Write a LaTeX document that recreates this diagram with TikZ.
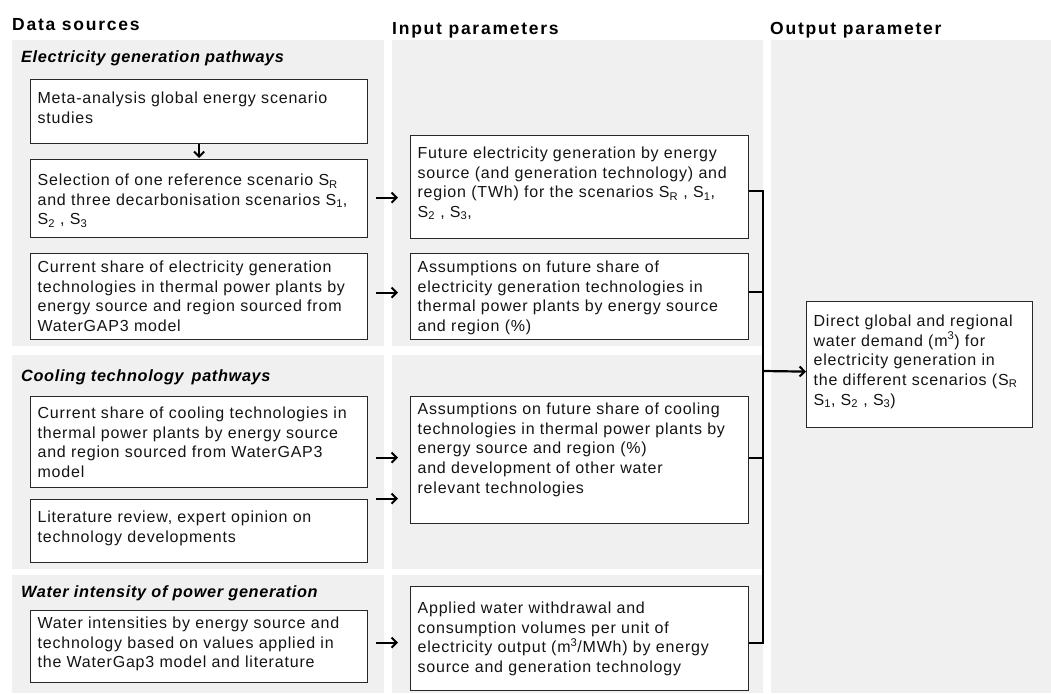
\documentclass[tikz,border=0pt]{standalone}
\usepackage{fontspec}
\setmainfont{Liberation Sans}
\newfontfamily\bodyfont{Liberation Sans}[LetterSpace=5]
\newfontfamily\headfont{Liberation Sans}[LetterSpace=10]
\newfontfamily\subfont{Liberation Sans}[LetterSpace=4]
\usetikzlibrary{arrows.meta}
\definecolor{panel}{RGB}{240,240,240}
\definecolor{txt}{RGB}{20,20,20}
\definecolor{edge}{RGB}{40,40,40}
\newcommand\bt[4]{\parbox[c][#2][t]{#1}{\bodyfont\fontsize{16pt}{19.6pt}\selectfont\raggedright\leftskip=7pt\rightskip=-60pt plus 1fil\parindent=0pt\rule{0pt}{#3}#4}}
\tikzset{
  box/.style={draw=edge, line width=1.2pt, fill=white, inner sep=0pt, anchor=north west, text=txt},
  head/.style={anchor=base west, inner sep=0pt, font=\headfont\bfseries\fontsize{17.5pt}{20pt}\selectfont},
  subhead/.style={anchor=base west, inner sep=0pt, font=\subfont\bfseries\itshape\fontsize{16.3pt}{19pt}\selectfont},
  arr/.style={line width=2.2pt, -{Straight Barb[length=5pt,width=10pt,line width=2pt]}},
  conn/.style={line width=2.2pt},
}
\begin{document}
\begin{tikzpicture}[x=1pt,y=-1pt]
\useasboundingbox (0,0) rectangle (1051,693);
% panels
\fill[panel] (12,40) rectangle (384,346);
\fill[panel] (12,355) rectangle (384,569);
\fill[panel] (12,575) rectangle (384,693);
\fill[panel] (392,40) rectangle (763,346);
\fill[panel] (392,355) rectangle (763,569);
\fill[panel] (392,575) rectangle (763,693);
\fill[panel] (771,40) rectangle (1051,693);
% headings
\node[head] (h1) at (12,31) {Data sources};
\node[head] (h2) at (392,35) {Input parameters};
\node[head] (h3) at (770,35) {Output parameter};
\node[subhead] (s1) at (21,63) {Electricity generation pathways};
\node[subhead] (s2) at (21,381) {Cooling technology\, pathways};
\node[subhead] (s3) at (21,597) {Water intensity of power generation};
% left boxes
\node[box] (B1) at (30,79) {\bt{337pt}{64pt}{24pt}{Meta-analysis global energy scenario\\studies}};
\node[box] (B2) at (30,159) {\bt{337pt}{78pt}{26pt}{Selection of one reference scenario S\textsubscript{R}\\and three decarbonisation scenarios S\textsubscript{1},\\S\textsubscript{2} , S\textsubscript{3}}};
\node[box] (B3) at (30,253) {\bt{337pt}{86pt}{19pt}{Current share of electricity generation\\technologies in thermal power plants by\\energy source and region sourced from\\WaterGAP3 model}};
\node[box] (B4) at (30,396) {\bt{337pt}{91pt}{22pt}{Current share of cooling technologies in\\thermal power plants by energy source\\and region sourced from WaterGAP3\\model}};
\node[box] (B5) at (30,499) {\bt{337pt}{63pt}{23pt}{Literature review, expert opinion on\\technology developments}};
\node[box] (B6) at (30,610) {\bt{337pt}{72pt}{18pt}{Water intensities by energy source and\\technology based on values applied in\\the WaterGap3 model and literature}};
% middle boxes
\node[box] (M1) at (410,135) {\bt{338pt}{103pt}{23pt}{Future electricity generation by energy\\source (and generation technology) and\\region (TWh) for the scenarios S\textsubscript{R} , S\textsubscript{1},\\S\textsubscript{2} , S\textsubscript{3},}};
\node[box] (M2) at (410,253) {\bt{338pt}{86pt}{19pt}{Assumptions on future share of\\electricity generation technologies in\\thermal power plants by energy source\\and region (\%)}};
\node[box] (M3) at (410,396) {\bt{338pt}{127pt}{18pt}{Assumptions on future share of cooling\\technologies in thermal power plants by\\energy source and region (\%)\\and development of other water\\relevant technologies}};
\node[box] (M4) at (410,586) {\bt{338pt}{104pt}{27pt}{Applied water withdrawal and\\consumption volumes per unit of\\electricity output (m\textsuperscript{3}/MWh) by energy\\source and generation technology}};
% output box
\node[box] (O) at (806,301) {\bt{226pt}{126pt}{25pt}{Direct global and regional\\water demand (m\textsuperscript{3}) for\\electricity generation in\\the different scenarios (S\textsubscript{R}\\S\textsubscript{1}, S\textsubscript{2} , S\textsubscript{3})}};
% arrows
\draw[arr, shorten >=1pt] (B1.south) -- (B2.north);
\draw[arr, shorten <=8pt, shorten >=12pt] ([yshift=1pt]B2.east) -- ([yshift=-10.5pt]M1.west);
\draw[arr, shorten <=8pt, shorten >=12pt] ([yshift=4pt]B3.east) -- ([yshift=4pt]M2.west);
\draw[arr, shorten <=8pt, shorten >=12pt] ([yshift=-15.5pt]B4.east) -- ([yshift=2.5pt]M3.west);
\draw[arr, shorten <=8pt, shorten >=12pt] ([yshift=32.5pt]B5.east) -- ([yshift=-38.5pt]M3.west);
\draw[arr, shorten <=8pt, shorten >=12pt] ([yshift=4pt]B6.east) -- ([yshift=-4pt]M4.west);
% bus
\coordinate (bus) at (763,371);
\draw[conn] ([yshift=-3.5pt]M1.east) -- ([yshift=-3.5pt]M1.east -| bus) -- ([yshift=-4pt]M4.east -| bus) -- ([yshift=-4pt]M4.east);
\draw[conn] ([yshift=5pt]M2.east) -- ([yshift=5pt]M2.east -| bus);
\draw[conn] ([yshift=2.5pt]M3.east) -- ([yshift=2.5pt]M3.east -| bus);
\draw[arr] (bus) -- ([yshift=-7pt]O.west);
\end{tikzpicture}
\end{document}
